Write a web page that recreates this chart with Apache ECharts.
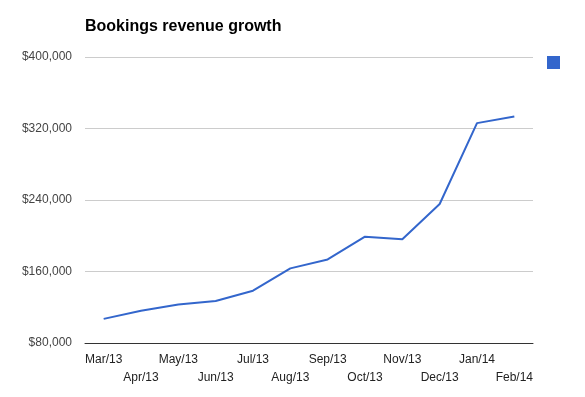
<!DOCTYPE html>
<html>
<head>
<meta charset="utf-8">
<script src="https://cdn.jsdelivr.net/npm/echarts@6/dist/echarts.min.js"></script>
<style>
  html, body { margin: 0; padding: 0; background: #fff; }
  #chart { width: 585px; height: 397px; }
</style>
</head>
<body>
<div id="chart"></div>
<script>
// data
const months = ['Mar/13', 'Apr/13', 'May/13', 'Jun/13', 'Jul/13', 'Aug/13',
  'Sep/13', 'Oct/13', 'Nov/13', 'Dec/13', 'Jan/14', 'Feb/14']
const revenue = [107000, 116000, 123000, 127000, 138500, 163500,
  173500, 199000, 196000, 235500, 326000, 333500]
const yTicks = [80000, 160000, 240000, 320000, 400000]

const chart = echarts.init(document.getElementById('chart'))

const option = {
  animation: false,
  title: {
    text: 'Bookings revenue growth',
    left: 80,
    top: 14,
    textStyle: {
      fontFamily: 'Liberation Sans, Arial, sans-serif',
      fontSize: 16,
      fontWeight: 'bold',
      color: '#000'
    }
  },
  legend: {
    left: 542,
    top: 51,
    icon: 'rect',
    itemWidth: 13,
    itemHeight: 13,
    formatter: () => '',
    data: ['Revenue']
  },
  grid: {
    left: 85,
    right: 52,
    top: 57,
    bottom: 54,
    containLabel: false
  },
  xAxis: {
    type: 'category',
    data: months,
    boundaryGap: true,
    axisLine: { lineStyle: { color: '#333', width: 1 } },
    axisTick: { show: false },
    axisLabel: {
      interval: 0,
      margin: 8,
      color: '#222',
      fontFamily: 'Liberation Sans, Arial, sans-serif',
      fontSize: 12,
      lineHeight: 18,
      formatter: (val, idx) => (idx % 2 === 1 ? '\n' + val : val)
    }
  },
  yAxis: {
    type: 'value',
    min: yTicks[0],
    max: yTicks[yTicks.length - 1],
    interval: 80000,
    axisLine: { show: false },
    axisTick: { show: false },
    splitLine: { lineStyle: { color: '#ccc', width: 1 } },
    axisLabel: {
      margin: 13,
      color: '#444',
      fontFamily: 'Liberation Sans, Arial, sans-serif',
      fontSize: 12,
      formatter: v => '$' + v.toLocaleString('en-US')
    }
  },
  series: [
    {
      name: 'Revenue',
      type: 'line',
      data: revenue,
      symbol: 'none',
      color: '#3366cc',
      lineStyle: { color: '#3366cc', width: 2 }
    }
  ]
}

chart.setOption(option)
</script>
</body>
</html>
